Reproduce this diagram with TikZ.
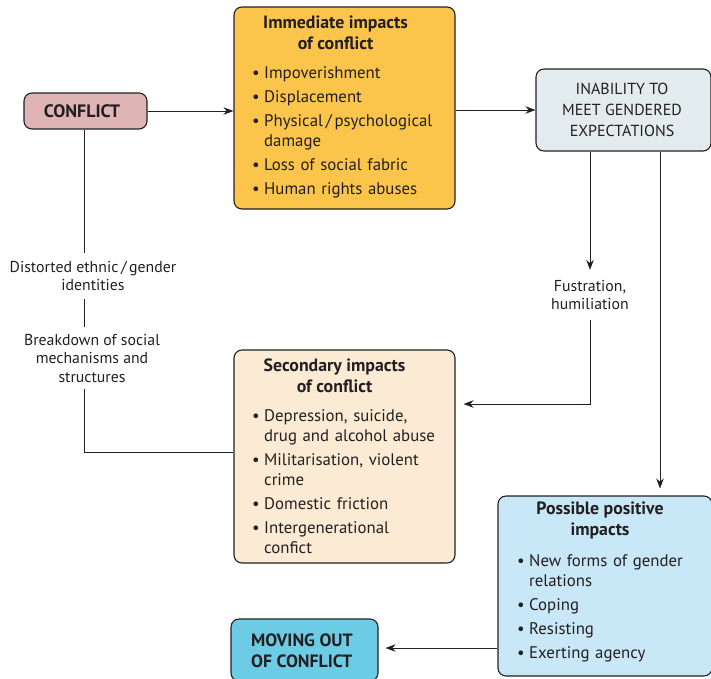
\documentclass[tikz,border=0pt]{standalone}
\usepackage{fontspec}
\setmainfont{PT Sans}
\usetikzlibrary{arrows.meta,calc}

\definecolor{ink}{HTML}{231F20}
\definecolor{cConflict}{HTML}{DEB4B4}
\definecolor{cImmediate}{HTML}{FBC44B}
\definecolor{cInability}{HTML}{E2ECEE}
\definecolor{cSecondary}{HTML}{FCEBD4}
\definecolor{cPositive}{HTML}{C8E8F8}
\definecolor{cMoving}{HTML}{6CCBE5}

% list setup: small gap between items
\newcommand\listsetup{\setlength{\parskip}{4pt}}
% bullet item with hanging indent
\newcommand\bitem[1]{\par\hangindent=12pt\hangafter=1\noindent\makebox[12pt][l]{\textbullet}#1}

\tikzset{
  panel/.style={draw=ink, line width=1.1pt, rounded corners=8pt, inner sep=0pt},
  heading/.style={text=ink, align=center, inner sep=0pt,
                  font=\fontsize{17.8}{21}\selectfont\bfseries},
  body/.style={anchor=north west, inner sep=0pt, text=ink, align=left,
               font=\fontsize{16.8}{20}\selectfont},
  lbl/.style={text=ink, align=center, font=\fontsize{15.8}{18.5}\selectfont},
  link/.style={draw=ink, line width=1pt},
  arr/.style={link, -{Stealth[length=10pt,width=7.5pt]}},
}

\begin{document}
\begin{tikzpicture}[x=1pt,y=-1pt]
\useasboundingbox (0,0) rectangle (711,678);

% main panels
\node[panel, fill=cConflict, minimum width=123pt, minimum height=36pt] (conflict) at (85.5,111) {};
\node[panel, fill=cImmediate, minimum width=221pt, minimum height=202pt] (immediate) at (344.5,108) {};
\node[panel, fill=cInability, minimum width=175pt, minimum height=82pt] (inab) at (623.5,110) {};
\node[panel, fill=cSecondary, minimum width=221pt, minimum height=213pt] (secondary) at (344.5,456.5) {};
\node[panel, fill=cPositive, minimum width=214pt, minimum height=180pt] (positive) at (605,586) {};
\node[panel, fill=cMoving, minimum width=147pt, minimum height=62pt] (moving) at (304.5,650) {};

% panel contents
\node[text=ink, inner sep=0pt, font=\fontsize{18}{21}\selectfont\bfseries] (conflicttext) at (82,111) {CONFLICT};

\node[heading] (immtitle) at (335.5,32.5) {Immediate impacts\\of conflict};
\node[body, text width=192pt] (immtext) at (252,54) {\listsetup
  \bitem{Impoverishment}
  \bitem{Displacement}
  \bitem{Physical\,/\,psychological \mbox{damage}}
  \bitem{Loss of social fabric}
  \bitem{Human rights abuses}\par};

\node[text=ink, align=center, font=\fontsize{16}{21}\selectfont] (inabtext) at (622,110)
  {INABILITY TO\\MEET GENDERED\\EXPECTATIONS};

\node[heading] (sectitle) at (334.5,375.5) {Secondary impacts\\of conflict};
\node[body, text width=185pt] (sectext) at (252,397) {\listsetup
  \bitem{Depression, suicide, \mbox{drug} and alcohol abuse}
  \bitem{Militarisation, violent \mbox{crime}}
  \bitem{Domestic friction}
  \bitem{Intergenerational \mbox{confict}}\par};

\node[heading] (postitle) at (600,520) {Possible positive\\impacts};
\node[body, text width=180pt] (postext) at (517,542) {\listsetup
  \bitem{New forms of gender \mbox{relations}}
  \bitem{Coping}
  \bitem{Resisting}
  \bitem{Exerting agency}\par};

\node[anchor=west, text=ink, align=left, inner sep=0pt, font=\fontsize{17.8}{21}\selectfont\bfseries]
  (movtext) at (251,650.5) {MOVING OUT\\OF CONFLICT};

% side labels
\node[lbl, inner ysep=8pt] (ethnic) at (93,276) {Distorted ethnic\,/\,gender\\identities};
\node[lbl, inner ysep=7pt] (breakdown) at (92,358) {Breakdown of social\\mechanisms and\\structures};
\node[lbl, inner ysep=10pt] (frust) at (590,295) {Fustration,\\humiliation};

% connectors
\draw[arr] (conflict.east) -- (conflict.east -| immediate.west);
\draw[arr] (inab.west -| immediate.east) -- (inab.west);
\draw[arr] (inab.south -| frust.north) -- (frust.north);
\draw[arr, shorten >=8pt] (frust.south) |- (secondary.east |- 0,404);
\draw[arr, shorten >=7pt] (inab.south -| 660,0) -- (positive.north -| 660,0);
\draw[arr, shorten >=7pt] (positive.west |- 0,648) -- (moving.east |- 0,648);
\draw[link] (conflict.south -| 84,0) -- (ethnic.north -| 84,0);
\draw[link] (ethnic.south -| 84,0) -- (breakdown.north -| 84,0);
\draw[link] (breakdown.south -| 84,0) |- (secondary.west |- 0,452);
\end{tikzpicture}
\end{document}
